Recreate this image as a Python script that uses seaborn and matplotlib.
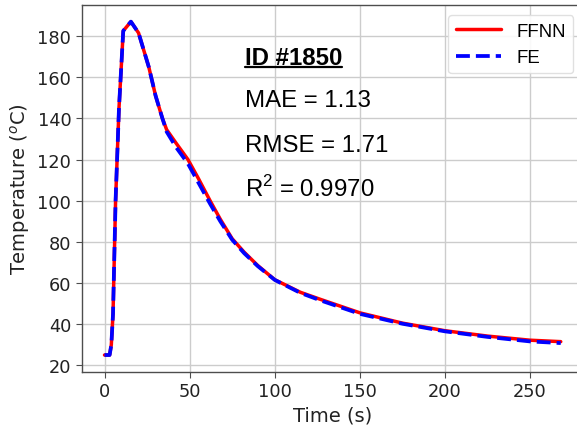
import matplotlib
matplotlib.use("Agg")
import matplotlib.pyplot as plt
from matplotlib.lines import Line2D
from matplotlib.font_manager import FontProperties
import seaborn as sns
import pandas as pd

# ---- data ----
time = [0, 3, 4, 5, 6.5, 8.5, 11, 15.5, 20, 26, 30, 34, 36.5, 42, 49, 55, 62, 68,
        75, 82, 90, 100, 115, 127, 150, 175, 200, 225, 250, 268]
ffnn = [25, 25, 30, 45, 100, 145, 182.5, 187, 181.5, 165, 151, 140, 134.5, 128, 120,
        111, 100, 91, 81.5, 75, 68.5, 61.6, 55.5, 52, 45.5, 40.5, 36.8, 34.2, 32.2, 31.5]
fe = [25, 25, 30, 45, 100, 145, 182.5, 187, 181.5, 165, 151, 140, 133.5, 126, 118,
      109, 98.5, 90, 81, 74.5, 68.2, 61.5, 55.2, 51.5, 45, 40.2, 36.5, 33.8, 31.6, 30.8]
series_names = ["FFNN", "FE"]
title_text = "ID #1850"
metrics = ["MAE = 1.13", "RMSE = 1.71", r"R$^{\mathregular{2}}$ = 0.9970"]
xticks = [0, 50, 100, 150, 200, 250]
yticks = [20, 40, 60, 80, 100, 120, 140, 160, 180]

sns.set_style("ticks")
plt.rcParams["font.family"] = ["DejaVu Sans"]
plt.rcParams["text.color"] = "black"
plt.rcParams["axes.labelcolor"] = "black"
plt.rcParams["xtick.color"] = "black"
plt.rcParams["ytick.color"] = "black"

fig = plt.figure(figsize=(5.77, 4.27), dpi=100)
ax = fig.add_axes([0.1416, 0.1272, 0.8698, 0.8588])

df_ffnn = pd.DataFrame({"t": time, "T": ffnn})
df_fe = pd.DataFrame({"t": time, "T": fe})
sns.lineplot(data=df_ffnn, x="t", y="T", ax=ax, color="#ff0000", lw=2.5,
             label=series_names[0], sort=False, estimator=None)
sns.lineplot(data=df_fe, x="t", y="T", ax=ax, color="#0000ff", lw=2.7,
             linestyle="--", label=series_names[1], sort=False, estimator=None)

ax.set_xticks(xticks)
ax.set_yticks(yticks)
ax.set_xlim(-13.4, 281.4)
ax.set_ylim(16.9, 195.1)
ax.tick_params(labelsize=12.8, length=4, color="0.3", labelcolor="#222222")
ax.grid(True, color="#cccccc", lw=1.0)
for s in ax.spines.values():
    s.set_color("0.3")
    s.set_linewidth(1.0)
ax.set_xlabel("Time (s)", fontsize=14, color="#222222")
ax.set_ylabel("Temperature ($^o$C)", fontsize=14, color="#222222")

font = ["Liberation Sans", "DejaVu Sans"]
tt = ax.text(0.3254, 0.839, title_text, transform=ax.transAxes, fontsize=17.3,
             fontweight="bold", family=font, va="baseline", ha="left", color="black")
ys = [0.7246, 0.6019, 0.479]
for m, y in zip(metrics, ys):
    ax.text(0.3254, y, m, transform=ax.transAxes, fontsize=17.3, family=font,
            va="baseline", ha="left", color="black")

leg = ax.legend(loc="upper right", prop=FontProperties(family="Liberation Sans", size=13.4),
                handlelength=2.4, handletextpad=0.85, framealpha=0.9, fancybox=True,
                borderaxespad=0.55)
leg.get_frame().set_edgecolor("#dddddd")
for t in leg.get_texts():
    t.set_color("black")

# underline for the ID label
fig.canvas.draw()
r = fig.canvas.get_renderer()
bb = tt.get_window_extent(renderer=r)
x0, x1 = bb.x0, bb.x1
base = ax.transAxes.transform((0.3254, 0.839))[1]
yl = base - 3
H = fig.bbox.height
W = fig.bbox.width
fig.add_artist(Line2D([x0 / W, x1 / W], [yl / H, yl / H], transform=fig.transFigure,
                      color="black", lw=1.6))

fig.savefig("out.png", dpi=100)
